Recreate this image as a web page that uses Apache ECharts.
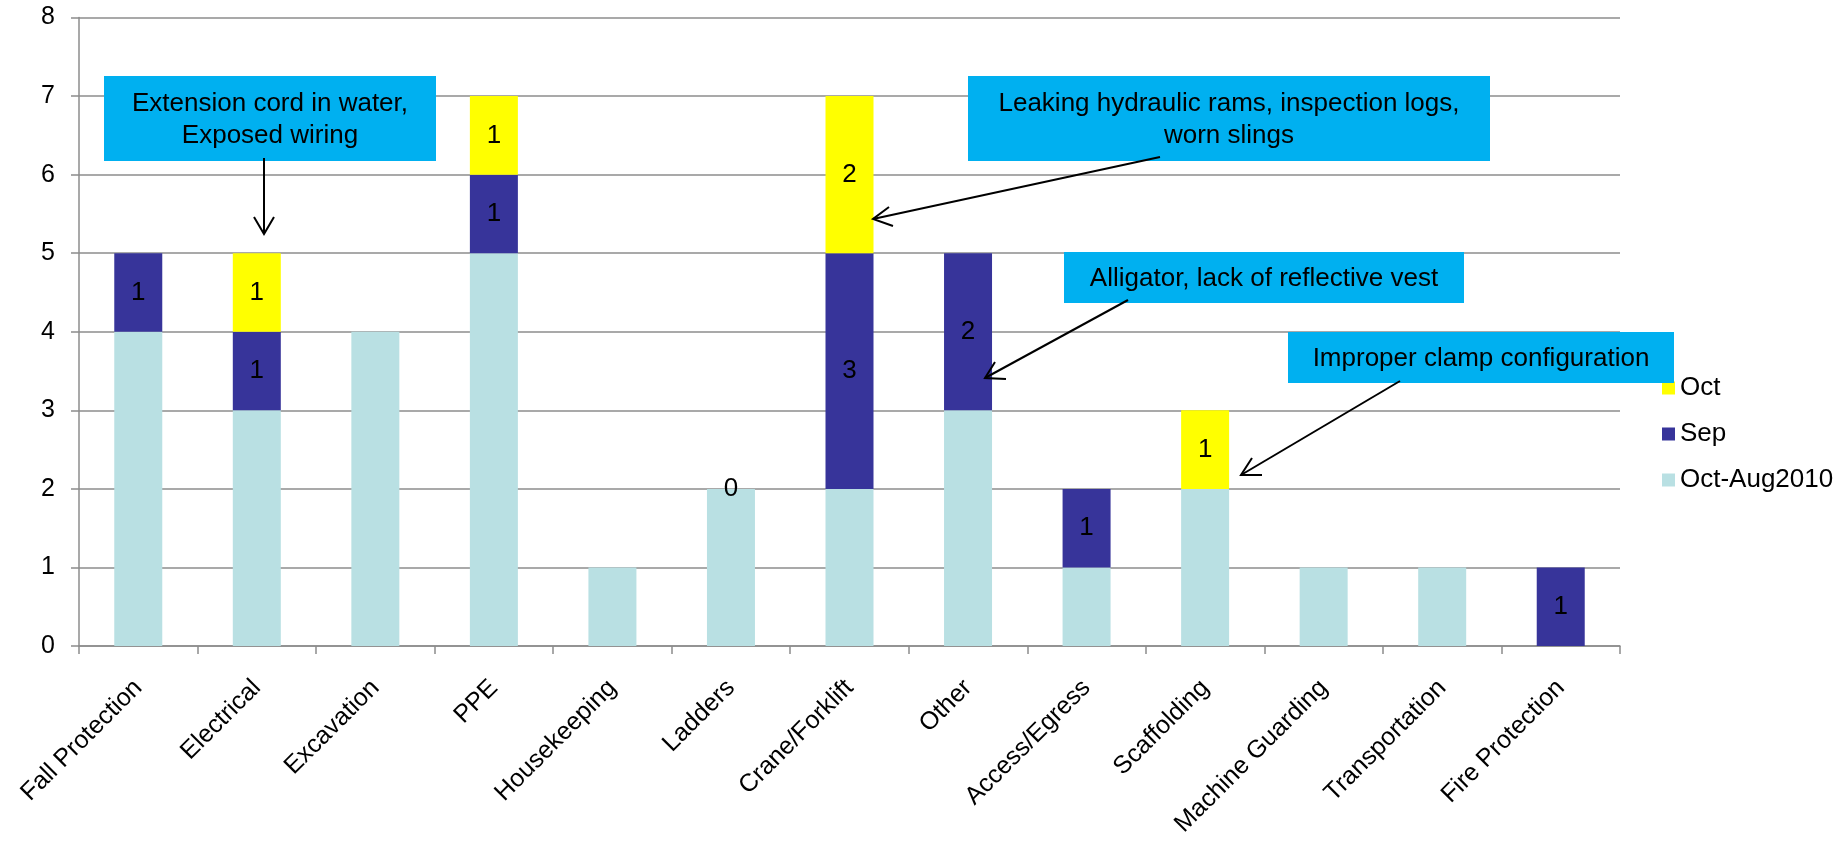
<!DOCTYPE html>
<html>
<head>
<meta charset="utf-8">
<script src="https://cdn.jsdelivr.net/npm/echarts@6/dist/echarts.min.js"></script>
<style>
html,body{margin:0;padding:0;background:#fff;}
#chart{width:1845px;height:850px;}
</style>
</head>
<body>
<div id="chart"></div>
<script>
var categories = ['Fall Protection','Electrical','Excavation','PPE','Housekeeping','Ladders','Crane/Forklift','Other','Access/Egress','Scaffolding','Machine Guarding','Transportation','Fire Protection'];
var baseValues = [4, 3, 4, 5, 1, 2, 2, 3, 1, 2, 1, 1, '-'];
var sepValues  = [1, 1, '-', 1, '-', 0, 3, 2, 1, '-', '-', '-', 1];
var octValues  = ['-', 1, '-', 1, '-', '-', 2, '-', '-', 1, '-', '-', '-'];
var yTicks = [0, 1, 2, 3, 4, 5, 6, 7, 8];

var FONT = "'Liberation Sans', Arial, sans-serif";
var chart = echarts.init(document.getElementById('chart'));

function box(x, y, w, h, text, cx, cy) {
  return [
    { type: 'rect', z: 100, shape: { x: x, y: y, width: w, height: h }, style: { fill: '#00B0F0' } },
    { type: 'text', z: 101, x: cx, y: cy, style: { text: text, fill: '#000', font: '26px ' + FONT, align: 'center', verticalAlign: 'middle', lineHeight: 32 } }
  ];
}
function arrow(x1, y1, x2, y2, a1, a2) {
  return [
    { type: 'line', z: 100, shape: { x1: x1, y1: y1, x2: x2, y2: y2 }, style: { stroke: '#000', lineWidth: 2 } },
    { type: 'polyline', z: 100, shape: { points: [a1, [x2, y2], a2] }, style: { stroke: '#000', lineWidth: 2, fill: null } }
  ];
}

var graphics = [].concat(
  box(104, 76, 332, 85, 'Extension cord in water,\nExposed wiring', 270, 120),
  box(968, 76, 522, 85, 'Leaking hydraulic rams, inspection logs,\nworn slings', 1229, 120),
  box(1064, 252, 400, 51, 'Alligator, lack of reflective vest', 1264, 279),
  box(1288, 332, 386, 51, 'Improper clamp configuration', 1481, 359),
  arrow(264, 158, 264, 234, [254, 217], [274, 217]),
  arrow(1160, 157, 873, 219, [889, 207], [893, 226]),
  arrow(1128, 300, 985, 378, [995, 362], [1006, 379]),
  arrow(1400, 381, 1241, 475, [1252, 458], [1262, 475])
);

var labelCfg = {
  show: true, position: 'inside', color: '#000', fontSize: 26, fontFamily: FONT,
  formatter: function (p) { return p.value === '-' || p.value == null ? '' : String(p.value); }
};

chart.setOption({
  animation: false,
  backgroundColor: '#fff',
  textStyle: { fontFamily: FONT },
  grid: { left: 79, right: 225, top: 17.5, bottom: 204, containLabel: false },
  legend: {
    orient: 'vertical', left: 1657, top: 370,
    itemWidth: 13, itemHeight: 13, itemGap: 20,
    icon: 'rect',
    data: ['Oct', 'Sep', 'Oct-Aug2010'],
    textStyle: { fontSize: 26, color: '#000', fontFamily: FONT, lineHeight: 26 }
  },
  xAxis: {
    type: 'category', data: categories,
    axisLine: { lineStyle: { color: '#8c8c8c', width: 1.5 } },
    axisTick: { show: true, length: 8, lineStyle: { color: '#8c8c8c', width: 1.5 } },
    axisLabel: { rotate: 45, interval: 0, margin: 38, fontSize: 25, color: '#000', fontFamily: FONT }
  },
  yAxis: {
    type: 'value', min: 0, max: 8, interval: 1,
    axisLine: { show: true, lineStyle: { color: '#8c8c8c', width: 1.5 } },
    axisTick: { show: true, length: 8, lineStyle: { color: '#8c8c8c', width: 1.5 } },
    axisLabel: { margin: 24, fontSize: 25, color: '#000', fontFamily: FONT,
      formatter: function (v) { return yTicks.indexOf(v) >= 0 ? String(v) : ''; } },
    splitLine: { show: true, lineStyle: { color: '#8c8c8c', width: 1.5 } }
  },
  series: [
    { name: 'Oct-Aug2010', type: 'bar', stack: 'a', data: baseValues, barWidth: 48, itemStyle: { color: '#B9E0E3' }, label: { show: false } },
    { name: 'Sep', type: 'bar', stack: 'a', data: sepValues, barWidth: 48, itemStyle: { color: '#37349A' }, label: labelCfg },
    { name: 'Oct', type: 'bar', stack: 'a', data: octValues, barWidth: 48, itemStyle: { color: '#FFFF00' }, label: labelCfg }
  ],
  graphic: graphics
});
</script>
</body>
</html>
